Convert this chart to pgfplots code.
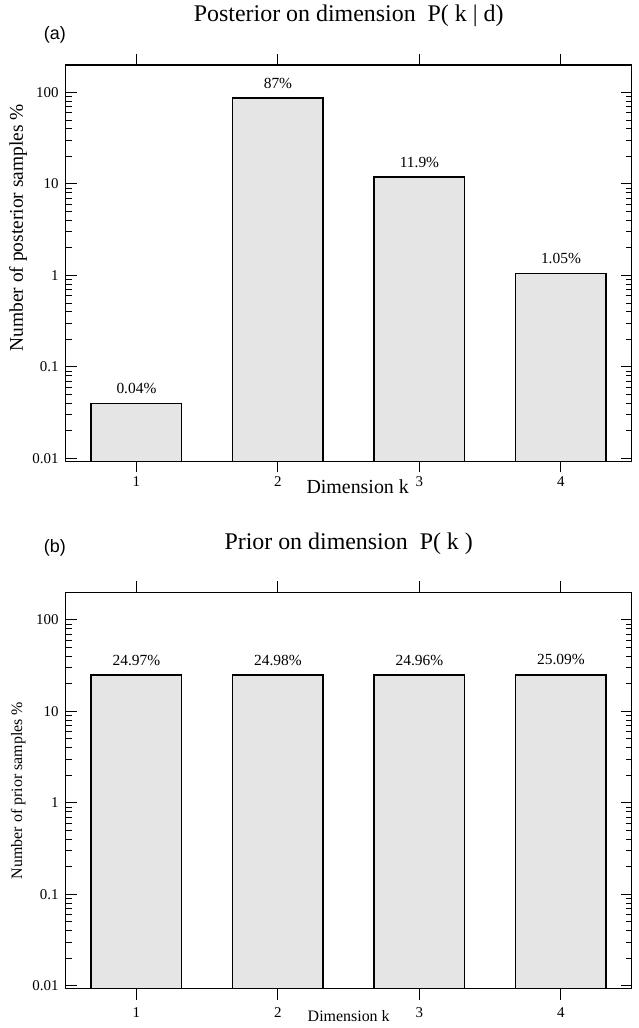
\documentclass[border=0pt]{standalone}
\usepackage{fontspec}
\setmainfont{Liberation Serif}
\newfontfamily\panelfont{Liberation Sans}
\usepackage{pgfplots}
\pgfplotsset{compat=1.18}

\definecolor{barfill}{RGB}{229,229,229}

\begin{document}
\begin{tikzpicture}
\useasboundingbox (0,0) rectangle (639bp,1028bp);

% (a) posterior on the dimension
\begin{axis}[
  at={(65.7bp,566.7bp)}, anchor=south west,
  scale only axis, width=566bp, height=396.3bp,
  ymode=log, log origin y=infty,
  xmin=0.5, xmax=4.5, ymin=0.0093, ymax=200,
  xtick={1,2,3,4},
  log ticks with fixed point,
  /pgf/number format/assume math mode=true,
  tick align=inside,
  major tick length=11bp, minor tick length=6bp,
  every tick/.style={black, line width=1bp},
  axis line style={line width=1.5bp},
  ticklabel style={font=\fontsize{15}{15}\selectfont},
  xticklabel style={inner sep=0pt, anchor=base, yshift=-14.7bp},
  yticklabel style={inner sep=0pt, xshift=-7bp},
  ybar, bar width=0.64,
  nodes near coords={\pgfplotspointmeta\%},
  point meta=explicit symbolic,
  every node near coord/.append style={font=\fontsize{15.5}{15.5}\selectfont, inner sep=0pt, yshift=9bp, black},
  title={Posterior on dimension\ \ P( k | d)},
  title style={font=\fontsize{24}{24}\selectfont, at={(0.5,1)}, anchor=base, yshift=37.5bp},
  xlabel={Dimension k},
  xlabel style={font=\fontsize{20}{20}\selectfont, at={(axis description cs:0.5,0)}, anchor=base, yshift=-32.5bp, xshift=9bp},
  ylabel={Number of posterior samples \%},
  ylabel style={font=\fontsize{19.5}{19.5}\selectfont, at={(axis description cs:-0.084,0.589)}, anchor=center},
  clip=false,
]
\addplot[fill=barfill, draw=black, line width=1.5bp] coordinates {
  (1,0.04) [0.04]
  (2,87)   [87]
  (3,11.9) [11.9]
  (4,1.05) [1.05]
};
\node[font=\panelfont\fontsize{18}{18}\selectfont, anchor=base] at (axis description cs:-0.019,1.065) {(a)};
\end{axis}

% (b) prior on the dimension
\begin{axis}[
  at={(65.7bp,39.3bp)}, anchor=south west,
  scale only axis, width=566bp, height=396.3bp,
  ymode=log, log origin y=infty,
  xmin=0.5, xmax=4.5, ymin=0.0093, ymax=200,
  xtick={1,2,3,4},
  log ticks with fixed point,
  /pgf/number format/assume math mode=true,
  tick align=inside,
  major tick length=11bp, minor tick length=6bp,
  every tick/.style={black, line width=1bp},
  axis line style={line width=1.5bp},
  ticklabel style={font=\fontsize{15}{15}\selectfont},
  xticklabel style={inner sep=0pt, anchor=base, yshift=-18.1bp},
  yticklabel style={inner sep=0pt, xshift=-7bp},
  ybar, bar width=0.64,
  nodes near coords={\pgfplotspointmeta\%},
  point meta=explicit symbolic,
  every node near coord/.append style={font=\fontsize{15.5}{15.5}\selectfont, inner sep=0pt, yshift=9bp, black},
  title={Prior on dimension\ \ P( k )},
  title style={font=\fontsize{24}{24}\selectfont, at={(0.5,1)}, anchor=base, yshift=36.5bp},
  xlabel={Dimension k},
  xlabel style={font=\fontsize{16}{16}\selectfont, at={(axis description cs:0.5,0)}, anchor=base, yshift=-32.5bp},
  ylabel={Number of prior samples \%},
  ylabel style={font=\fontsize{16}{16}\selectfont, at={(axis description cs:-0.084,0.5)}, anchor=center},
  clip=false,
]
\addplot[fill=barfill, draw=black, line width=1.5bp] coordinates {
  (1,24.97) [24.97]
  (2,24.98) [24.98]
  (3,24.96) [24.96]
  (4,25.09) [25.09]
};
\node[font=\panelfont\fontsize{18}{18}\selectfont, anchor=base] at (axis description cs:-0.019,1.101) {(b)};
\end{axis}
\end{tikzpicture}
\end{document}
